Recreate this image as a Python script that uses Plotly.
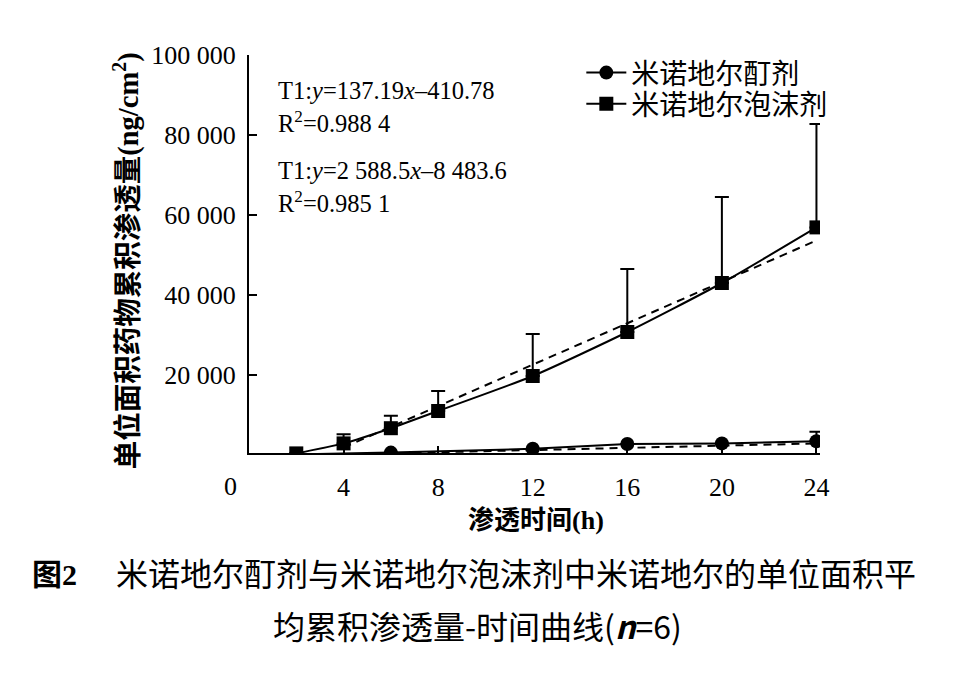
import plotly.graph_objects as go

# ---- data ----
time_foam = [2, 4, 6, 8, 12, 16, 20, 24]
foam_mean = [400, 2900, 6700, 11000, 19750, 30750, 43000, 56900]
foam_sd = [0, 2300, 3100, 5000, 10500, 15750, 21500, 25850]

time_tinct = [2, 6, 12, 16, 20, 24]
tinct_mean = [150, 600, 1550, 2750, 2900, 3450]
tinct_sd = [0, 0, 0, 0, 0, 2350]

fit_x = [4, 24]
tinct_slope, tinct_icpt = 137.19, -410.78
foam_slope, foam_icpt = 2588.5, -8483.6

y_ticks = [20000, 40000, 60000, 80000, 100000]
y_ticktext = ["20 000", "40 000", "60 000", "80 000", "100 000"]
x_ticks = [4, 8, 12, 16, 20, 24]

name_tinct = "米诺地尔酊剂"
name_foam = "米诺地尔泡沫剂"

SERIF = "Liberation Serif, Times New Roman, serif"
CJK = "Noto Sans CJK SC"

fig = go.Figure()

# regression lines (dashed)
fig.add_trace(go.Scatter(
    x=fit_x, y=[foam_slope * v + foam_icpt for v in fit_x], mode="lines",
    line=dict(color="black", width=2, dash="8px,6px"), showlegend=False, hoverinfo="skip"))
fig.add_trace(go.Scatter(
    x=fit_x, y=[tinct_slope * v + tinct_icpt for v in fit_x], mode="lines",
    line=dict(color="black", width=2, dash="8px,6px"), showlegend=False, hoverinfo="skip"))

fig.add_trace(go.Scatter(
    x=time_tinct, y=tinct_mean, mode="lines+markers", name=name_tinct, legend="legend",
    line=dict(color="black", width=2),
    marker=dict(symbol="circle", size=14, color="black"),
    error_y=dict(type="data", array=tinct_sd, arrayminus=[0] * len(tinct_sd), symmetric=False,
                 color="black", thickness=2, width=7),
))
fig.add_trace(go.Scatter(
    x=time_foam, y=foam_mean, mode="lines+markers", name=name_foam, legend="legend2",
    line=dict(color="black", width=2, shape="spline", smoothing=0.6),
    marker=dict(symbol="square", size=14, color="black"),
    error_y=dict(type="data", array=foam_sd, arrayminus=[0] * len(foam_sd), symmetric=False,
                 color="black", thickness=2, width=7),
))

ann = []
def A(text, x, y, size, font=SERIF, xanchor="left", angle=0, color="black"):
    ann.append(dict(text=text, x=x, y=y, xref="paper", yref="paper", showarrow=False,
                    xanchor=xanchor, yanchor="middle", textangle=angle,
                    font=dict(family=font, size=size, color=color)))

SER_SPAN = "<span style='font-family:Liberation Serif'>"
A("T1:<i>y</i>=137.19<i>x</i>–410.78", 0.048, 0.912, 24.5)
A("R<sup>2</sup>=0.988 4", 0.048, 0.832, 24.5)
A("T1:<i>y</i>=2 588.5<i>x</i>–8 483.6", 0.048, 0.711, 24.5)
A("R<sup>2</sup>=0.985 1", 0.048, 0.631, 24.5)
A("0", -0.033, -0.085, 26, xanchor="center")
A("<b>渗透时间" + SER_SPAN + "(h)</span></b>", 0.503, -0.163, 26, font=CJK, xanchor="center")
A("<b>单位面积药物累积渗透量" + SER_SPAN + "(ng/cm<sup>2</sup>)</span></b>", -0.217, 0.482, 28.5,
  font=CJK, xanchor="center", angle=-90)
A("<b>图" + SER_SPAN + "2</span></b>", -0.384, -0.299, 30, font=CJK)
A("米诺地尔酊剂与米诺地尔泡沫剂中米诺地尔的单位面积平", -0.236, -0.299, 32, font=CJK)
A("均累积渗透量-时间曲线(<i><b>n</b></i>=6)", 0.40, -0.432, 32, font=CJK, xanchor="center")

leg_common = dict(xanchor="left", yanchor="middle", font=dict(family=CJK, size=28, color="black"),
                  bgcolor="rgba(0,0,0,0)", itemwidth=40)

fig.update_layout(
    width=960, height=677,
    margin=dict(l=241, r=148, t=47, b=232),
    paper_bgcolor="white", plot_bgcolor="white",
    showlegend=True,
    legend=dict(x=0.582, y=0.955, **leg_common),
    legend2=dict(x=0.582, y=0.877, **leg_common),
    annotations=ann,
    xaxis=dict(range=[0, 24.15], tickvals=x_ticks, ticks="inside", ticklen=7, tickwidth=2,
               tickcolor="black", showline=True, linecolor="black", linewidth=2,
               showgrid=False, zeroline=False, ticklabelstandoff=10,
               tickfont=dict(family=SERIF, size=26, color="black")),
    yaxis=dict(range=[500, 100000], tickvals=y_ticks, ticktext=y_ticktext, ticks="inside",
               ticklen=8, tickwidth=2, tickcolor="black", showline=True, linecolor="black",
               linewidth=2, showgrid=False, zeroline=False, ticklabelstandoff=6,
               tickfont=dict(family=SERIF, size=26, color="black")),
)

fig.write_html("out.html")
